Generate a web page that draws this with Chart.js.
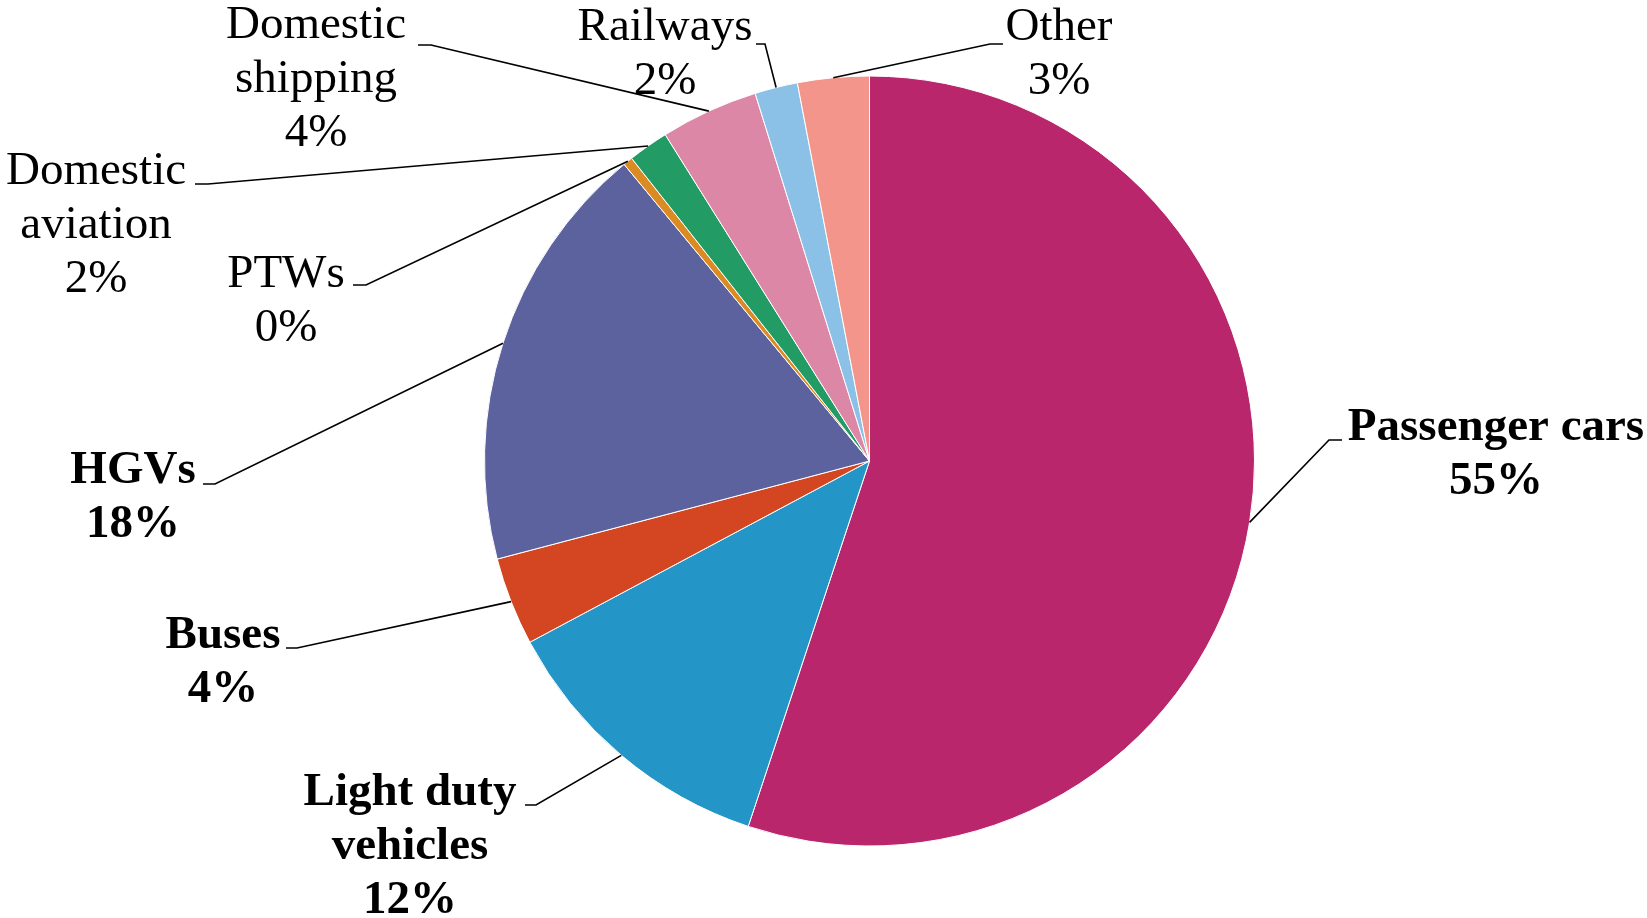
<!DOCTYPE html>
<html>
<head>
<meta charset="utf-8">
<script src="https://cdn.jsdelivr.net/npm/chart.js@4"></script>
<style>
  body { margin: 0; background: #fff; }
  #wrap { width: 1647px; height: 918px; position: relative; }
</style>
</head>
<body>
<div id="wrap"><canvas id="share-chart"></canvas></div>
<script>
const categories = ['Passenger cars', 'Light duty vehicles', 'Buses', 'HGVs', 'PTWs',
    'Domestic aviation', 'Domestic shipping', 'Railways', 'Other'];
const shares = [55.1, 12.1, 3.7, 18.1, 0.4, 1.7, 4.1, 1.8, 3.0];
const colours = ['#b9266c', '#2396c7', '#d34621', '#5c629e', '#dc8a22',
    '#239b64', '#dc87a6', '#8bc1e6', '#f3958a'];
const boldLabels = [true, true, true, true, false, false, false, false, false];

// where each label sits: centre x, first baseline, line breaks, elbow of the leader and its tail
const labelSpots = [
    { x: 1496, y: 440, lines: ['Passenger cars'], bend: [1329, 440], tail: 13 },
    { x: 410, y: 805, lines: ['Light duty', 'vehicles'], bend: [536, 805], tail: -11 },
    { x: 223, y: 648, lines: ['Buses'], bend: [297, 648], tail: -11 },
    { x: 133, y: 483, lines: ['HGVs'], bend: [215, 484], tail: -12 },
    { x: 286, y: 287, lines: ['PTWs'], bend: [366, 285], tail: -13 },
    { x: 96, y: 184, lines: ['Domestic', 'aviation'], bend: [208, 184], tail: -13 },
    { x: 316, y: 38, lines: ['Domestic', 'shipping'], bend: [431, 45], tail: -13 },
    { x: 665, y: 40, lines: ['Railways'], bend: [765, 44], tail: -9 },
    { x: 1059, y: 40, lines: ['Other'], bend: [990, 44], tail: 13 }
];
const lineGap = 54;

const total = shares.reduce((a, b) => a + b, 0);

const leaderLabels = {
    id: 'leaderLabels',
    afterDraw(chart) {
        const ctx = chart.ctx;
        const arcs = chart.getDatasetMeta(0).data;
        ctx.save();
        arcs.forEach((arc, i) => {
            const spot = labelSpots[i];
            const mid = (arc.startAngle + arc.endAngle) / 2;
            const px = arc.x + Math.cos(mid) * arc.outerRadius;
            const py = arc.y + Math.sin(mid) * arc.outerRadius;

            ctx.strokeStyle = '#000';
            ctx.lineWidth = 1.6;
            ctx.beginPath();
            ctx.moveTo(px, py);
            ctx.lineTo(spot.bend[0], spot.bend[1]);
            ctx.lineTo(spot.bend[0] + spot.tail, spot.bend[1]);
            ctx.stroke();

            const pct = Math.round(shares[i] / total * 100) + '%';
            const text = spot.lines.concat([pct]);
            ctx.fillStyle = '#000';
            ctx.textAlign = 'center';
            ctx.textBaseline = 'alphabetic';
            ctx.font = (boldLabels[i] ? 'bold ' : '') + '47px "Liberation Serif", "Times New Roman", serif';
            text.forEach((t, k) => ctx.fillText(t, spot.x, spot.y + k * lineGap));
        });
        ctx.restore();
    }
};

const ctx = document.getElementById('share-chart').getContext('2d');
// eslint-disable-next-line no-undef
new Chart(ctx, {
    type: 'pie',
    data: {
        labels: categories,
        datasets: [{
            data: shares,
            backgroundColor: colours,
            borderColor: '#ffffff',
            borderWidth: 1
        }]
    },
    options: {
        responsive: true,
        maintainAspectRatio: false,
        animation: false,
        layout: { padding: { top: 75, bottom: 71, left: 484, right: 392 } },
        plugins: {
            legend: { display: false },
            tooltip: { enabled: false }
        }
    },
    plugins: [leaderLabels]
});
</script>
</body>
</html>
